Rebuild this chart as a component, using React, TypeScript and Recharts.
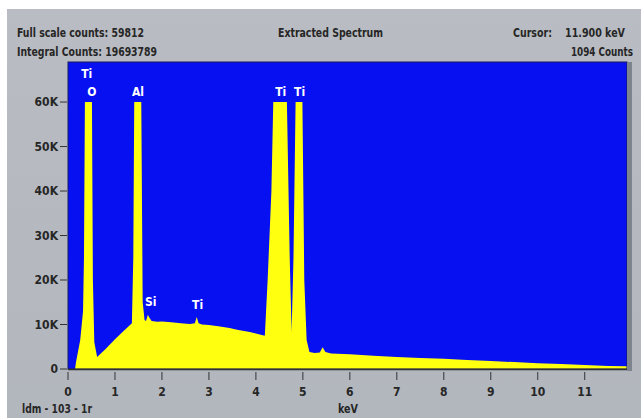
import { AreaChart, Area, XAxis, YAxis, CartesianGrid, ReferenceDot } from "recharts";

// energy (keV) and counts
const energy = [
  0, 0.15, 0.17, 0.26, 0.32, 0.34, 0.36, 0.51, 0.53, 0.56, 0.62, 0.8, 1.0, 1.2,
  1.36, 1.39, 1.41, 1.56, 1.59, 1.63, 1.66, 1.7, 1.73, 1.78, 1.9, 2.0, 2.2, 2.4,
  2.6, 2.7, 2.74, 2.78, 2.85, 3.0, 3.2, 3.44, 3.6, 3.87, 4.0, 4.19, 4.25, 4.33,
  4.37, 4.66, 4.72, 4.76, 4.8, 4.845, 4.99, 5.03, 5.08, 5.14, 5.25, 5.36, 5.42,
  5.48, 5.6, 6, 6.5, 7, 7.5, 8, 8.5, 9, 9.5, 10, 10.5, 11, 11.5, 11.9,
];
const counts = [
  0, 0, 1500, 6500, 13000, 25000, 60000, 60000, 20000, 6000, 2700, 4500, 6700, 8700,
  10300, 25000, 60000, 60000, 15000, 11000, 10800, 12200, 11600, 10800, 10600, 10700, 10500, 10300,
  10100, 10300, 11700, 10300, 10000, 9900, 9600, 9200, 8800, 8300, 8000, 7500, 20000, 40000,
  60000, 60000, 25000, 8300, 25000, 60000, 60000, 20000, 6500, 3800, 3600, 3700, 4900,
  3800, 3500, 3300, 3000, 2700, 2500, 2300, 2000, 1800, 1550, 1300, 1100, 900, 700, 600,
];

const xTicks = [0, 1, 2, 3, 4, 5, 6, 7, 8, 9, 10, 11];
const yTicks = [0, 10000, 20000, 30000, 40000, 50000, 60000];

// peak markers: element, energy, counts position of label
const peakNames = ["Ti", "O", "Al", "Ti", "Ti", "Si", "Ti"];
const peakKeV = [0.4, 0.51, 1.49, 4.53, 4.93, 1.76, 2.76];
const peakCounts = [66300, 62300, 62300, 62300, 62300, 15100, 14500];

const data = energy.map((e, i) => ({ keV: e, counts: counts[i] }));

const FONT = "'Liberation Sans Narrow', 'DejaVu Sans Condensed', sans-serif";
const INK = "#262626";

const XTick = (props: any) => {
  const { x, y, payload } = props;
  return (
    <g>
      <line x1={x} x2={x} y1={y + 3} y2={y + 11} stroke="#333" strokeWidth={1} />
      <text x={x} y={y + 23} textAnchor="middle" dominantBaseline="central" fill={INK} fontSize={12} fontWeight="bold" fontFamily={FONT}>
        {payload.value}
      </text>
    </g>
  );
};

const YTick = (props: any) => {
  const { x, y, payload } = props;
  const v = payload.value;
  const label = v === 0 ? "0" : `${v / 1000}K`;
  return (
    <g>
      <line x1={x - 8} x2={x - 1} y1={y} y2={y} stroke="#333" strokeWidth={1} />
      <text x={x - 10} y={y} textAnchor="end" dominantBaseline="central" fill={INK} fontSize={12} fontWeight="bold" fontFamily={FONT}>
        {label}
      </text>
    </g>
  );
};

const headerStyle = { fill: INK, fontSize: 12, fontWeight: "bold" as const, fontFamily: FONT };

export default function App() {
  return (
    <div style={{ position: "absolute", left: 0, top: 0, width: 641, height: 418, background: "#fff", overflow: "hidden" }}>
      <div
        style={{
          position: "absolute",
          left: 7,
          top: 9,
          width: 634,
          height: 409,
          background: "linear-gradient(180deg, #b9bcc2 0%, #b2b6bd 100%)",
        }}
      />
      <div style={{ position: "absolute", left: 0, top: 0 }}>
        <AreaChart width={641} height={418} data={data} margin={{ top: 62, right: 14, left: 28, bottom: 19 }}>
          <CartesianGrid horizontal={false} vertical={false} fill="#0610f0" />
          <XAxis
            type="number"
            dataKey="keV"
            domain={[0, 11.9]}
            ticks={xTicks}
            allowDataOverflow
            axisLine={false}
            tickLine={false}
            tickSize={0}
            tickMargin={0}
            height={30}
            tick={<XTick />}
          />
          <YAxis
            type="number"
            domain={[0, 69000]}
            ticks={yTicks}
            allowDataOverflow
            axisLine={false}
            tickLine={false}
            tickSize={0}
            tickMargin={0}
            width={40}
            tick={<YTick />}
          />
          <Area
            type="linear"
            dataKey="counts"
            stroke="none"
            fill="#ffff10"
            fillOpacity={1}
            isAnimationActive={false}
          />
          {peakNames.map((name, i) => (
            <ReferenceDot
              key={i}
              x={peakKeV[i]}
              y={peakCounts[i]}
              r={0}
              fill="none"
              stroke="none"
              label={{ value: name, position: "center", fill: "#ffffff", fontSize: 12, fontWeight: "bold", fontFamily: FONT }}
            />
          ))}
        </AreaChart>
      </div>
      <svg width={641} height={418} style={{ position: "absolute", left: 0, top: 0, pointerEvents: "none" }}>
        <rect x={68} y={62} width={559} height={307} fill="none" stroke="#1a1a60" strokeWidth={1} />
        <line x1={68} x2={627} y1={369.5} y2={369.5} stroke="#303030" strokeWidth={1.5} />
        <rect x={627} y={62} width={5} height={309} fill="#7d848e" />
        <text x={17} y={33} dominantBaseline="central" textLength={127} lengthAdjust="spacingAndGlyphs" {...headerStyle}>
          Full scale counts: 59812
        </text>
        <text x={17} y={52} dominantBaseline="central" textLength={140} lengthAdjust="spacingAndGlyphs" {...headerStyle}>
          Integral Counts: 19693789
        </text>
        <text x={278} y={33} dominantBaseline="central" textLength={105} lengthAdjust="spacingAndGlyphs" {...headerStyle}>
          Extracted Spectrum
        </text>
        <text x={513} y={33} dominantBaseline="central" textLength={39} lengthAdjust="spacingAndGlyphs" {...headerStyle}>
          Cursor:
        </text>
        <text x={565} y={33} dominantBaseline="central" textLength={60} lengthAdjust="spacingAndGlyphs" {...headerStyle}>
          11.900 keV
        </text>
        <text x={633} y={52} textAnchor="end" dominantBaseline="central" textLength={62} lengthAdjust="spacingAndGlyphs" {...headerStyle}>
          1094 Counts
        </text>
        <text x={22} y={409} dominantBaseline="central" textLength={70} lengthAdjust="spacingAndGlyphs" {...headerStyle}>
          ldm - 103 - 1r
        </text>
        <text x={338} y={409} dominantBaseline="central" textLength={20} lengthAdjust="spacingAndGlyphs" {...headerStyle}>
          keV
        </text>
      </svg>
    </div>
  );
}
